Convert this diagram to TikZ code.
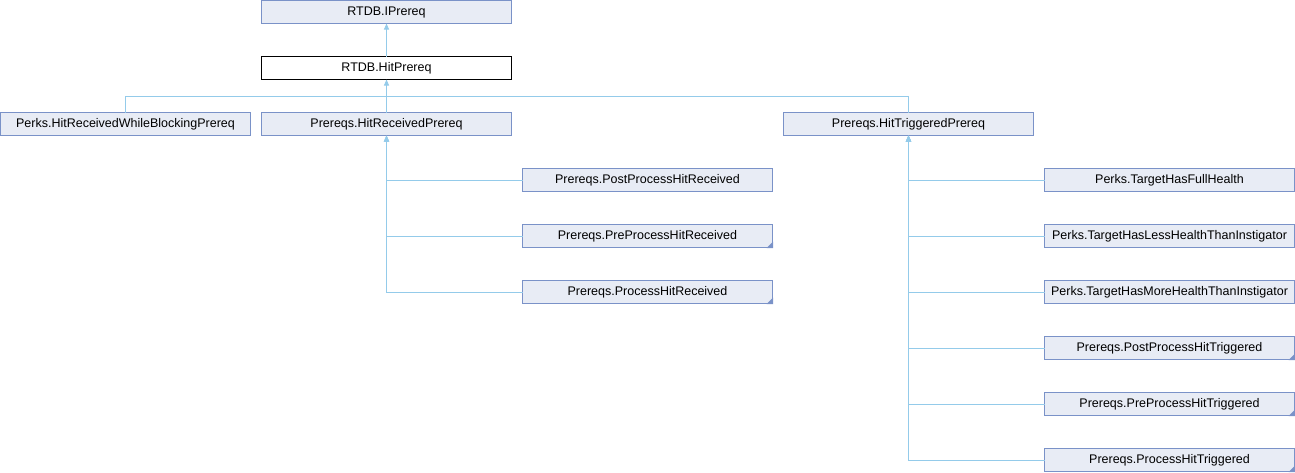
\documentclass[tikz,border=0pt]{standalone}
\usepackage{fontspec}
\setmainfont{Liberation Sans}
\usetikzlibrary{arrows.meta}
\definecolor{boxfill}{RGB}{232,236,245}
\definecolor{boxdraw}{RGB}{122,146,200}
\definecolor{linecol}{RGB}{148,203,234}
\tikzset{
  cls/.style={draw=boxdraw, fill=boxfill, line width=1pt, minimum width=250pt, minimum height=23pt, inner sep=0pt, outer sep=0pt, font=\fontsize{12.5}{15}\selectfont, anchor=north west},
  curcls/.style={cls, draw=black, fill=white},
  conn/.style={draw=linecol, line width=1pt, {Triangle[width=5pt,length=6pt]}-},
  plainconn/.style={draw=linecol, line width=1pt},
  cornertri/.style={fill=boxdraw, draw=none},
}
\newcommand{\cornermark}[1]{\fill[cornertri] ([xshift=0.5pt,yshift=-0.5pt]#1.south east) -- ++(-6.5pt,0) -- ++(6.5pt,6.5pt) -- cycle;}
\begin{document}
\begin{tikzpicture}[x=1pt,y=-1pt]
\useasboundingbox (0,0) rectangle (1295,472);
% nodes
\node[cls] (ip) at (261.5,0.5) {RTDB.IPrereq};
\node[curcls] (hp) at (261.5,56.5) {RTDB.HitPrereq};
\node[cls] (hrwb) at (0.5,112.5) {Perks.HitReceivedWhileBlockingPrereq};
\node[cls] (hr) at (261.5,112.5) {Prereqs.HitReceivedPrereq};
\node[cls] (ht) at (783.5,112.5) {Prereqs.HitTriggeredPrereq};
\node[cls] (pphr) at (522.5,168.5) {Prereqs.PostProcessHitReceived};
\node[cls] (prphr) at (522.5,224.5) {Prereqs.PreProcessHitReceived};
\node[cls] (phr) at (522.5,280.5) {Prereqs.ProcessHitReceived};
\node[cls] (tfh) at (1044.5,168.5) {Perks.TargetHasFullHealth};
\node[cls] (tlh) at (1044.5,224.5) {Perks.TargetHasLessHealthThanInstigator};
\node[cls] (tmh) at (1044.5,280.5) {Perks.TargetHasMoreHealthThanInstigator};
\node[cls] (ppht) at (1044.5,336.5) {Prereqs.PostProcessHitTriggered};
\node[cls] (prpht) at (1044.5,392.5) {Prereqs.PreProcessHitTriggered};
\node[cls] (pht) at (1044.5,448.5) {Prereqs.ProcessHitTriggered};
% corner marks
\cornermark{prphr}
\cornermark{phr}
\cornermark{ppht}
\cornermark{prpht}
\cornermark{pht}
% connectors
\draw[conn] (ip.south) -- (hp.north);
\draw[plainconn] (hrwb.north) -- ++(0,-16) -| (hp.south);
\draw[plainconn] (ht.north) -- ++(0,-16) -| (hp.south);
\draw[conn] (hp.south) -- (hr.north);
\draw[conn] (hr.south) |- (pphr.west);
\draw[conn] (hr.south) |- (prphr.west);
\draw[conn] (hr.south) |- (phr.west);
\draw[conn] (ht.south) |- (tfh.west);
\draw[conn] (ht.south) |- (tlh.west);
\draw[conn] (ht.south) |- (tmh.west);
\draw[conn] (ht.south) |- (ppht.west);
\draw[conn] (ht.south) |- (prpht.west);
\draw[conn] (ht.south) |- (pht.west);
\end{tikzpicture}
\end{document}
